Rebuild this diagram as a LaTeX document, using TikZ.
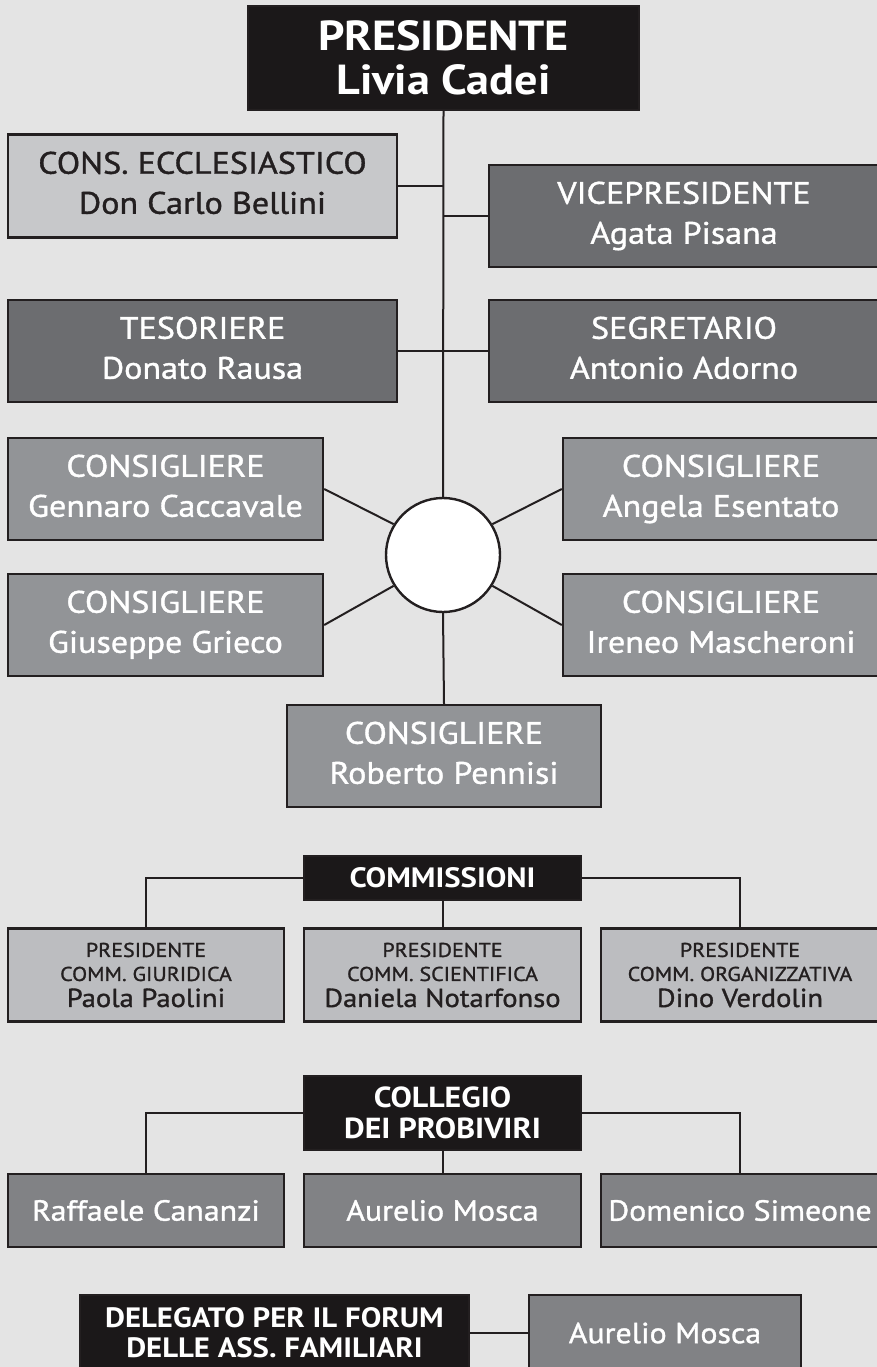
\documentclass[tikz,border=0pt]{standalone}
\usepackage{fontspec}
\setmainfont{PT Sans}[FakeStretch=1.1]
\newfontfamily\med{PT Sans}[FakeStretch=1.1,FakeBold=1.2]
\definecolor{bg}{HTML}{E4E4E4}
\definecolor{blk}{HTML}{1B1819}
\definecolor{ltg}{HTML}{C7C8CA}
\definecolor{dkg}{HTML}{6C6D70}
\definecolor{mdg}{HTML}{929497}
\definecolor{cmg}{HTML}{BCBDC0}
\definecolor{pbg}{HTML}{818285}
\definecolor{edge}{HTML}{231F20}
\newcommand\sz[2]{\fontsize{#1}{#2}\selectfont}
\tikzset{
  base/.style={draw=edge, line width=2.4pt, inner sep=0pt, align=center},
  blackbox/.style={base, fill=blk, text=white},
  lightbox/.style={base, fill=ltg, text=edge},
  darkbox/.style={base, fill=dkg, text=white},
  midbox/.style={base, fill=mdg, text=white},
  commbox/.style={base, fill=cmg, text=edge},
  probox/.style={base, fill=pbg, text=white},
  conn/.style={draw=edge, line width=2pt},
  mid/.style={font=\med\sz{31}{40}, execute at end node={\vphantom{gpy}}},
}
\begin{document}
\begin{tikzpicture}[x=1pt,y=-1pt]
\fill[bg] (0,0) rectangle (877,1367);
\useasboundingbox (0,0) rectangle (877,1367);
\begin{scope}
\clip (0,0) rectangle (877,1367);
% top
\node[blackbox, minimum width=391, minimum height=104, font=\sz{42}{44}\bfseries] (pres) at (443.5,58) {PRESIDENTE\\Livia Cadei};
\node[lightbox, minimum width=389, minimum height=103, mid] (eccl) at (202.5,186) {CONS. ECCLESIASTICO\\Don Carlo Bellini};
\node[darkbox, minimum width=390, minimum height=102, mid] (vice) at (684,216) {VICEPRESIDENTE\\Agata Pisana};
\node[darkbox, minimum width=389, minimum height=102, mid] (tes) at (202.5,351) {TESORIERE\\Donato Rausa};
\node[darkbox, minimum width=390, minimum height=102, mid] (seg) at (684,351) {SEGRETARIO\\Antonio Adorno};
\node[midbox, minimum width=315, minimum height=102, mid] (c1) at (165.5,489) {CONSIGLIERE\\Gennaro Caccavale};
\node[midbox, minimum width=316, minimum height=102, mid] (c2) at (721,489) {CONSIGLIERE\\Angela Esentato};
\node[midbox, minimum width=315, minimum height=102, mid] (c3) at (165.5,625) {CONSIGLIERE\\Giuseppe Grieco};
\node[midbox, minimum width=316, minimum height=102, mid] (c4) at (721,625) {CONSIGLIERE\\Ireneo Mascheroni};
\node[midbox, minimum width=314, minimum height=102, mid] (c5) at (444,756) {CONSIGLIERE\\Roberto Pennisi};
\node[draw=edge, line width=2.4pt, fill=white, circle, minimum size=114, inner sep=0pt] (circ) at (443,555) {};
% connectors
\draw[conn] (pres.south) -- (circ.north);
\draw[conn] (eccl.east) -- (eccl.east -| pres.south);
\draw[conn] (vice.west) -- (vice.west -| pres.south);
\draw[conn] (tes.east) -- (seg.west);
\draw[conn] (c1.east) -- (circ.148);
\draw[conn] (c2.west) -- (circ.32);
\draw[conn] (c3.east) -- (circ.212);
\draw[conn] (c4.west) -- (circ.328);
\draw[conn] (circ.south) -- (c5.north);
% commissioni
\node[blackbox, minimum width=277, minimum height=44, font=\sz{28}{30}\bfseries] (comm) at (442.5,878) {COMMISSIONI};
\node[commbox, minimum width=276, minimum height=93, font=\med\sz{20}{24}] (cm1) at (146,975) {PRESIDENTE\\COMM. GIURIDICA\\[2pt]{\sz{26}{30}Paola Paolini}};
\node[commbox, minimum width=277, minimum height=93, font=\med\sz{20}{24}] (cm2) at (442.5,975) {PRESIDENTE\\COMM. SCIENTIFICA\\[2pt]{\sz{26}{30}Daniela Notarfonso}};
\node[commbox, minimum width=278, minimum height=93, font=\med\sz{20}{24}] (cm3) at (740,975) {PRESIDENTE\\COMM. ORGANIZZATIVA\\[2pt]{\sz{26}{30}Dino Verdolin}};
\draw[conn] (comm.west) -| (cm1.north);
\draw[conn] (comm.east) -| (cm3.north);
\draw[conn] (comm.south) -- (cm2.north);
% collegio
\node[blackbox, minimum width=277, minimum height=74, font=\sz{29}{31}\bfseries] (coll) at (442.5,1113) {COLLEGIO\\DEI PROBIVIRI};
\node[probox, minimum width=276, minimum height=73, font=\med\sz{29}{31}] (pb1) at (146,1210.5) {Raffaele Cananzi};
\node[probox, minimum width=277, minimum height=73, font=\med\sz{29}{31}] (pb2) at (442.5,1210.5) {Aurelio Mosca};
\node[probox, minimum width=278, minimum height=73, font=\med\sz{29}{31}] (pb3) at (740,1210.5) {Domenico Simeone};
\draw[conn] (coll.west) -| (pb1.north);
\draw[conn] (coll.east) -| (pb3.north);
\draw[conn] (coll.south) -- (pb2.north);
% delegato
\node[blackbox, minimum width=389, minimum height=76, font=\sz{28}{30}\bfseries] (del) at (274.5,1333) {DELEGATO PER IL FORUM\\DELLE ASS. FAMILIARI};
\node[probox, minimum width=272, minimum height=76, font=\med\sz{29}{31}] (am) at (665,1333) {Aurelio Mosca};
\draw[conn] (del.east) -- (am.west);
\end{scope}
\end{tikzpicture}
\end{document}
